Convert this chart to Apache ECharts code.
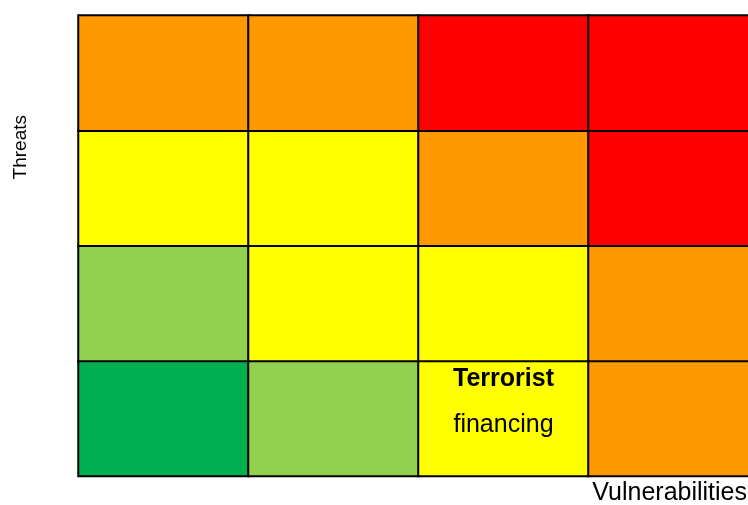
<!DOCTYPE html>
<html>
<head>
<meta charset="utf-8">
<script src="https://cdn.jsdelivr.net/npm/echarts@6/dist/echarts.min.js"></script>
<style>
html,body{margin:0;padding:0;background:#fff;}
#chart{width:748px;height:505px;}
</style>
</head>
<body>
<div id="chart"></div>
<script>
// Categories
const vulnerabilityLevels = ['V1', 'V2', 'V3', 'V4'];
const threatLevels = ['T1', 'T2', 'T3', 'T4']; // bottom to top
// Risk level per cell, rows listed from bottom (T1) to top (T4)
// 1 = low (dark green), 2 = light green, 3 = yellow, 4 = orange, 5 = red
const riskRows = [
  [1, 2, 3, 4],
  [2, 3, 3, 4],
  [3, 3, 4, 5],
  [4, 4, 5, 5]
];
const cellLabels = [
  { x: 2, y: 0, title: 'Terrorist', sub: 'financing' }
];
const xAxisName = 'Vulnerabilities';
const yAxisName = 'Threats';

const data = [];
riskRows.forEach((row, yi) => {
  row.forEach((v, xi) => {
    const item = { value: [xi, yi, v] };
    const lab = cellLabels.find(l => l.x === xi && l.y === yi);
    if (lab) {
      item.label = {
        show: true,
        formatter: '{t|' + lab.title + '}\n{s|' + lab.sub + '}',
        offset: [0, -16],
        rich: {
          t: { fontFamily: 'Liberation Sans, Arial, sans-serif', fontSize: 25, fontWeight: 'bold', color: '#000', lineHeight: 46 },
          s: { fontFamily: 'Liberation Sans, Arial, sans-serif', fontSize: 25, color: '#000', lineHeight: 46 }
        }
      };
    }
    data.push(item);
  });
});

const chart = echarts.init(document.getElementById('chart'), null, { renderer: 'canvas' });
chart.setOption({
  animation: false,
  grid: { left: 78.5, top: 15.5, width: 680, height: 460.5, outerBoundsMode: 'none', containLabel: false },
  xAxis: { type: 'category', data: vulnerabilityLevels, show: false },
  yAxis: { type: 'category', data: threatLevels, show: false },
  visualMap: {
    show: false,
    type: 'piecewise',
    dimension: 2,
    pieces: [
      { value: 1, color: '#00B050' },
      { value: 2, color: '#92D050' },
      { value: 3, color: '#FFFF00' },
      { value: 4, color: '#FF9900' },
      { value: 5, color: '#FF0000' }
    ]
  },
  graphic: [
    {
      type: 'text', left: 11, top: 115, rotation: Math.PI / 2,
      style: { text: yAxisName, font: '19px "Liberation Sans", Arial, sans-serif', fill: '#000' },
      originX: 0, originY: 0
    },
    {
      type: 'text', right: 1, top: 481,
      style: { text: xAxisName, font: '25px "Liberation Sans", Arial, sans-serif', fill: '#000' }
    }
  ],
  series: [{
    type: 'heatmap',
    data: data,
    label: { show: false },
    itemStyle: { borderColor: '#000', borderWidth: 2 },
    emphasis: { disabled: true }
  }]
});
</script>
</body>
</html>
